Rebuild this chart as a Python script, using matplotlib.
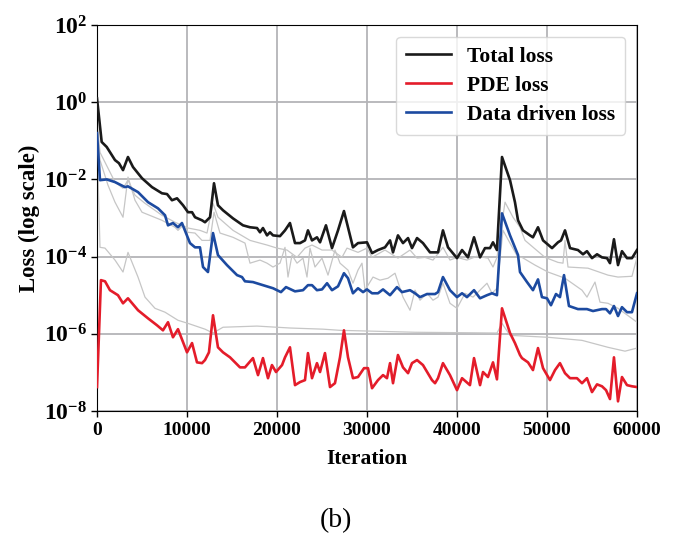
import numpy as np
import matplotlib
matplotlib.use("Agg")
import matplotlib.pyplot as plt
from matplotlib.ticker import FixedLocator, NullLocator, FuncFormatter

# ---------------- data (log10 of loss values) ----------------
total_it = [0, 520, 1080, 2000, 2440, 2890, 3440, 4000, 5000, 6110, 7220, 7780, 8330, 8890,
            9560, 10110, 10560, 10890, 11670, 12000, 12560, 13000, 13440, 14000, 15110, 16220,
            17000, 17780, 18110, 18440, 18890, 19220, 19560, 20330, 20890, 21440, 22000, 22560,
            23110, 23440, 23890, 24440, 24780, 25440, 26110, 26780, 27440, 28110, 28440, 29000,
            30000, 30560, 31220, 32000, 32560, 32890, 33440, 34000, 34560, 35000, 35560, 36220,
            37000, 37890, 38440, 39000, 40000, 40560, 41220, 41890, 42560, 43110, 43670, 44000,
            44440, 45000, 45890, 46440, 46780, 47330, 48110, 48440, 49000, 49560, 50560, 51220,
            51560, 52000, 52560, 53440, 54000, 54440, 55000, 55560, 56110, 56670, 57000, 57440,
            57890, 58330, 58890, 59440, 60000]
total_log = [0.10, -1.03, -1.16, -1.50, -1.58, -1.76, -1.42, -1.68, -1.97, -2.20, -2.36, -2.38,
             -2.54, -2.49, -2.67, -2.85, -2.85, -2.98, -3.06, -3.11, -2.98, -2.10, -2.67, -2.80,
             -3.01, -3.19, -3.24, -3.26, -3.37, -3.26, -3.45, -3.37, -3.45, -3.47, -3.32, -3.13,
             -3.65, -3.65, -3.58, -3.32, -3.58, -3.50, -3.63, -3.19, -3.78, -3.32, -2.82, -3.45,
             -3.76, -3.65, -3.63, -3.91, -3.83, -3.76, -3.58, -3.89, -3.45, -3.65, -3.52, -3.78,
             -3.52, -3.65, -3.89, -3.89, -3.32, -3.76, -4.04, -3.83, -4.02, -3.50, -4.02, -3.78,
             -3.78, -3.63, -3.83, -1.42, -2.02, -2.59, -3.06, -3.32, -3.45, -3.50, -3.24, -3.58,
             -3.78, -3.63, -3.58, -3.32, -3.78, -3.83, -3.94, -3.86, -4.04, -3.94, -4.02, -4.04,
             -4.17, -3.55, -4.22, -3.86, -4.04, -4.04, -3.83]

pde_it = [0, 440, 890, 1440, 2330, 2890, 3440, 4560, 5670, 6670, 7330, 7890, 8440, 9000, 10000,
          10560, 11110, 11670, 12000, 12440, 12890, 13440, 14000, 14780, 15890, 16440, 17330,
          17890, 18440, 19000, 19440, 19890, 20560, 20890, 21440, 22000, 22560, 23110, 23440,
          23890, 24440, 24780, 25330, 25890, 26440, 27000, 27440, 27890, 28440, 29000, 29670,
          30110, 30560, 31220, 31780, 32220, 32560, 32890, 33440, 34000, 34560, 35000, 35560,
          36220, 37220, 37560, 37890, 38440, 39220, 40000, 40560, 41440, 41890, 42560, 42890,
          43440, 44000, 44440, 45000, 45890, 46440, 47000, 47220, 47890, 48440, 49000, 49560,
          50330, 50890, 51440, 52000, 52560, 53330, 53890, 54440, 55000, 55560, 56110, 56560,
          57000, 57440, 57890, 58330, 58890, 59440, 60000]
pde_log = [-7.38, -4.61, -4.64, -4.87, -5.00, -5.21, -5.08, -5.39, -5.60, -5.78, -5.91, -5.70,
           -6.09, -5.88, -6.48, -6.24, -6.74, -6.76, -6.68, -6.48, -5.52, -6.35, -6.48, -6.61,
           -6.87, -6.87, -6.63, -7.07, -6.63, -7.15, -6.81, -6.99, -6.81, -6.61, -6.35, -7.33,
           -7.25, -7.20, -6.50, -7.15, -6.76, -6.99, -6.50, -7.38, -7.28, -6.61, -5.91, -6.61,
           -7.15, -7.12, -6.89, -6.89, -7.41, -7.20, -7.07, -7.15, -6.76, -7.28, -6.55, -6.87,
           -7.02, -6.76, -6.68, -6.81, -7.20, -7.28, -7.15, -6.76, -7.07, -7.46, -7.15, -7.33,
           -6.63, -7.33, -6.99, -7.12, -6.74, -7.18, -5.34, -5.98, -6.24, -6.55, -6.63, -6.74,
           -6.94, -6.37, -6.89, -7.20, -6.94, -6.76, -7.02, -7.15, -7.15, -7.28, -7.15, -7.51,
           -7.31, -7.36, -7.46, -7.69, -6.61, -7.75, -7.12, -7.33, -7.36, -7.38]

data_it = [0, 330, 1080, 2000, 3110, 3440, 4560, 5670, 6780, 7560, 7890, 8440, 9000, 9440,
           10330, 10890, 11440, 11780, 12330, 12890, 13440, 14440, 15560, 16110, 16440, 17330,
           18440, 19560, 20440, 21000, 22000, 22890, 23440, 23890, 24440, 25000, 25560, 26110,
           26780, 27440, 27890, 28440, 29000, 29560, 30000, 30560, 31220, 31780, 32560, 33330,
           33890, 34780, 35330, 35890, 36670, 37560, 37890, 38440, 39220, 40000, 40560, 41110,
           41890, 42560, 43330, 43890, 44440, 45000, 45890, 46780, 47000, 47780, 48440, 49000,
           49440, 50000, 50440, 51000, 51440, 51890, 52440, 53440, 54440, 55110, 56110, 56560,
           57000, 57440, 57890, 58330, 58890, 59440, 60000]
data_log = [-0.80, -2.02, -2.00, -2.07, -2.20, -2.18, -2.33, -2.59, -2.75, -2.93, -3.19, -3.13,
            -3.24, -3.13, -3.65, -3.76, -3.76, -4.27, -4.40, -3.39, -3.96, -4.22, -4.48, -4.53,
            -4.64, -4.66, -4.74, -4.82, -4.92, -4.79, -4.90, -4.87, -4.74, -4.74, -4.87, -4.85,
            -4.69, -4.87, -4.77, -4.43, -4.56, -4.95, -4.82, -4.92, -4.85, -4.95, -4.95, -4.85,
            -5.00, -4.79, -4.92, -4.87, -4.95, -5.05, -4.97, -4.97, -4.92, -4.53, -4.87, -5.05,
            -4.95, -5.05, -4.87, -5.08, -5.00, -4.95, -5.00, -2.88, -3.45, -3.96, -4.40, -4.66,
            -4.87, -4.59, -5.05, -5.08, -5.26, -4.97, -5.05, -4.48, -5.28, -5.36, -5.36, -5.41,
            -5.36, -5.36, -5.47, -5.28, -5.54, -5.31, -5.44, -5.44, -4.95]

gray1_it = [0, 333, 1222, 2000, 2889, 3444, 4222, 5333, 7222, 8667, 9444, 10111, 11444, 12222,
            12889, 13444, 15111, 17000, 17778, 18889, 20000, 21111, 22222, 23111, 23889, 25000,
            26111, 27222, 27778, 29000, 30000, 30556, 32000, 33444, 34778, 35556, 36444, 37333,
            38444, 39222, 40000, 41111, 42222, 43444, 44000, 44444, 45333, 46222, 47000, 47556,
            49778, 51222, 51778, 52000, 52333, 54556, 56778, 57889, 59444, 60000]
gray1_log = [-0.47, -1.30, -1.71, -2.07, -2.23, -2.02, -2.41, -2.62, -2.93, -3.11, -3.19, -3.26,
             -3.32, -3.39, -2.62, -2.98, -3.32, -3.58, -3.63, -3.70, -3.78, -3.83, -4.02, -3.78,
             -3.70, -3.83, -3.83, -4.02, -3.78, -3.89, -3.78, -4.02, -3.83, -4.04, -3.83, -4.04,
             -4.02, -4.09, -3.76, -4.09, -4.02, -4.09, -3.99, -4.04, -4.27, -4.02, -2.59, -2.98,
             -3.24, -3.58, -4.02, -4.15, -4.17, -3.58, -4.27, -4.30, -4.48, -4.53, -4.51, -4.02]

gray2_it = [0, 333, 1222, 2000, 2889, 3444, 4222, 5000, 7222, 8667, 9000, 9556, 10111, 10889,
            11667, 12556, 13000, 13667, 15111, 16444, 17000, 18111, 18889, 19556, 20333, 20889,
            21222, 21667, 22222, 22889, 23333, 23667, 24222, 25000, 25667, 26444, 27000, 27889,
            28444, 29000, 29444, 29778, 30667, 31444, 32333, 33111, 34000, 34778, 35333, 35889,
            36667, 37333, 37889, 38444, 39222, 40000, 40889, 41778, 43333, 43889, 44444, 45111,
            45889, 46778, 47222, 48667, 50111, 52000, 53889, 54444, 55333, 55889, 56778, 57889,
            60000]
gray2_log = [-0.73, -1.50, -2.15, -2.59, -2.98, -1.94, -2.54, -2.85, -3.06, -3.24, -3.32, -3.19,
             -3.37, -3.39, -3.58, -3.58, -2.85, -3.39, -3.50, -3.65, -4.17, -4.09, -4.17, -4.27,
             -4.17, -3.76, -4.53, -3.96, -4.17, -4.04, -4.53, -3.78, -4.27, -4.04, -4.48, -3.83,
             -4.17, -4.35, -4.69, -4.35, -4.17, -4.87, -4.53, -4.61, -4.56, -4.43, -5.05, -5.39,
             -4.87, -5.13, -4.95, -5.13, -5.05, -4.69, -5.21, -5.34, -4.95, -5.05, -4.69, -4.95,
             -4.82, -3.32, -3.65, -4.02, -4.02, -4.22, -4.40, -4.56, -4.87, -5.05, -4.66, -5.18,
             -5.21, -5.34, -5.70]

gray3_it = [0, 333, 889, 2000, 2889, 3444, 4556, 5333, 6444, 7556, 9000, 10111, 12000, 12889,
            14000, 17778, 21444, 25111, 27000, 35333, 44444, 45000, 45889, 50111, 53889, 56778,
            58667, 60000]
gray3_log = [-0.98, -3.76, -3.78, -4.09, -4.40, -3.89, -4.53, -5.05, -5.34, -5.44, -5.65, -5.73,
             -5.88, -5.98, -5.83, -5.80, -5.85, -5.88, -5.91, -5.96, -5.98, -5.73, -6.04, -6.09,
             -6.17, -6.35, -6.45, -6.37]

labels = ["Total loss", "PDE loss", "Data driven loss"]
ytick_exps = [-8, -6, -4, -2, 0, 2]
xticks = [0, 10000, 20000, 30000, 40000, 50000, 60000]

# ---------------- style ----------------
plt.rcParams["font.family"] = ["Liberation Serif", "DejaVu Serif"]
plt.rcParams["font.weight"] = "bold"
plt.rcParams["mathtext.fontset"] = "custom"
plt.rcParams["mathtext.rm"] = "Liberation Serif:bold"
plt.rcParams["mathtext.bf"] = "Liberation Serif:bold"
plt.rcParams["mathtext.it"] = "Liberation Serif:bold:italic"

fig = plt.figure(figsize=(6.85, 5.36), dpi=100)
ax = fig.add_axes([97 / 685, 1 - 411 / 536, 540 / 685, 386 / 536])

gray_c = "#c6c6c6"
for gx, gy in [(gray3_it, gray3_log), (gray2_it, gray2_log), (gray1_it, gray1_log)]:
    ax.plot(gx, 10 ** np.array(gy), color=gray_c, lw=0.9, zorder=2)

ax.plot(total_it, 10 ** np.array(total_log), color="#1a1a1a", lw=1.9, label=labels[0], zorder=4)
ax.plot(pde_it, 10 ** np.array(pde_log), color="#e41c2a", lw=1.9, label=labels[1], zorder=4)
ax.plot(data_it, 10 ** np.array(data_log), color="#1c4aa0", lw=1.9, label=labels[2], zorder=4)

ax.set_yscale("log")
ax.set_xlim(0, 60000)
ax.set_ylim(1e-8, 1e2)
ax.set_xticks(xticks)
ax.yaxis.set_major_locator(FixedLocator([10.0 ** e for e in ytick_exps]))
ax.yaxis.set_minor_locator(NullLocator())
ax.yaxis.set_major_formatter(FuncFormatter(lambda v, p: r"$\mathbf{10^{%d}}$" % round(np.log10(v))))
ax.grid(True, color="#b4b4b8", lw=1.3, zorder=0)
ax.set_axisbelow(True)
ax.tick_params(axis="x", labelsize=14, direction="out", length=4, width=1, pad=4)
ax.tick_params(axis="y", labelsize=17, direction="out", length=4, width=1, pad=3)
for lab in ax.get_xticklabels():
    lab.set_fontweight("bold")

ax.set_xlabel("Iteration", fontsize=15.5, fontweight="bold", labelpad=7)
ax.set_ylabel("Loss (log scale)", fontsize=16.5, fontweight="bold", labelpad=3)

leg = ax.legend(loc="upper right", fontsize=15.5, frameon=True, fancybox=True,
                framealpha=0.8, edgecolor="#d0d0d0", handlelength=2.1, handletextpad=0.75,
                borderaxespad=0.55, labelspacing=0.42, borderpad=0.45)
for t in leg.get_texts():
    t.set_fontweight("bold")

fig.text(0.49, 0.028, "(b)", fontsize=20, fontweight="normal", ha="center", va="center")

fig.savefig("out.png", dpi=100)
